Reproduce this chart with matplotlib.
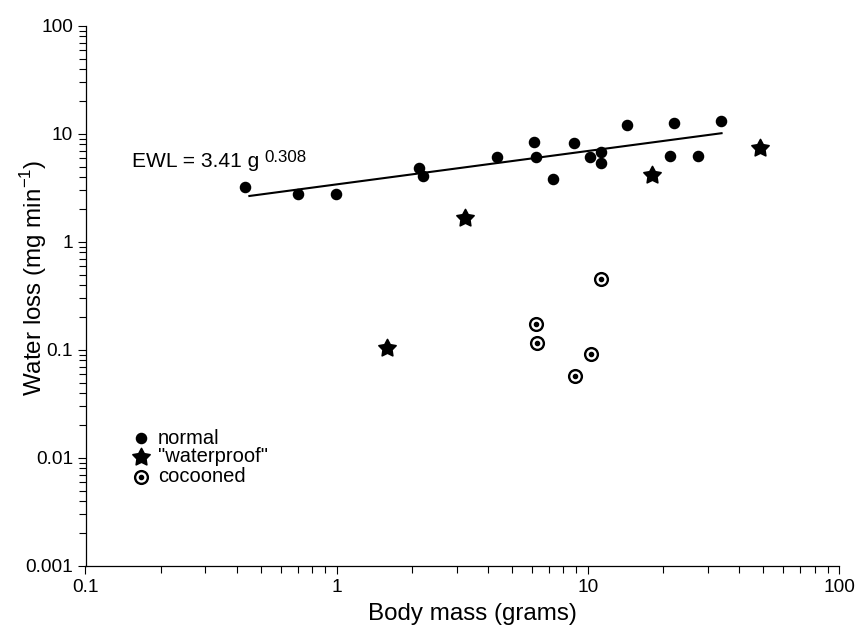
import numpy as np
import matplotlib
matplotlib.use("Agg")
import matplotlib.pyplot as plt
from matplotlib.path import Path
from matplotlib.ticker import LogLocator, FuncFormatter, NullFormatter

plt.rcParams['font.family'] = ['Liberation Sans', 'DejaVu Sans']

# body mass (g) and evaporative water loss (mg/min)
normal_mass = [0.43, 0.70, 0.99, 2.13, 2.21, 4.34, 6.12, 6.21, 7.24, 8.80,
               10.2, 11.3, 11.3, 14.3, 21.2, 22.1, 27.4, 33.8]
normal_ewl = [3.25, 2.77, 2.77, 4.88, 4.08, 6.08, 8.38, 6.08, 3.80, 8.20,
              6.16, 6.85, 5.36, 12.1, 6.25, 12.6, 6.25, 13.1]
waterproof_mass = [1.59, 3.24, 18.0, 48.4]
waterproof_ewl = [0.105, 1.66, 4.17, 7.36]
cocoon_mass = [6.21, 6.29, 8.86, 10.3, 11.3]
cocoon_ewl = [0.174, 0.117, 0.058, 0.092, 0.454]

# regression line EWL = 3.41 g^0.308, end points
fit_mass = [0.445, 34.4]
fit_ewl = [2.66, 10.2]

legend_labels = ['normal', '"waterproof"', 'cocooned']


def fat_star(inner=0.52):
    ang = np.pi / 2 + np.arange(10) * np.pi / 5
    r = np.where(np.arange(10) % 2 == 0, 1.0, inner)
    verts = np.column_stack([r * np.cos(ang), r * np.sin(ang)])
    verts = np.vstack([verts, verts[:1]])
    codes = [Path.MOVETO] + [Path.LINETO] * 9 + [Path.CLOSEPOLY]
    return Path(verts, codes)


star = fat_star()
dot_kw = dict(marker='o', ms=7.3, color='black', ls='none')
star_kw = dict(marker=star, ms=13, color='black', mew=1.2, ls='none')
ring_kw = dict(marker='o', ms=9.2, mfc='white', mec='black', mew=1.7, ls='none')
core_kw = dict(marker='o', ms=3.0, color='black', ls='none')

fig = plt.figure(figsize=(8.6, 6.31), dpi=100)
ax = fig.add_axes([85.5 / 860, 1 - 566 / 631, 753.5 / 860, 540 / 631])

ax.plot(fit_mass, fit_ewl, color='black', lw=1.5, solid_capstyle='butt')
ax.plot(normal_mass, normal_ewl, **dot_kw)
ax.plot(waterproof_mass, waterproof_ewl, **star_kw)
ax.plot(cocoon_mass, cocoon_ewl, **ring_kw)
ax.plot(cocoon_mass, cocoon_ewl, **core_kw)

ax.set_xscale('log')
ax.set_yscale('log')
ax.set_xlim(0.1, 100)
ax.set_ylim(0.001, 100)

fmt = FuncFormatter(lambda v, p: f'{v:g}')
for axis in (ax.xaxis, ax.yaxis):
    axis.set_major_locator(LogLocator(base=10))
    axis.set_minor_locator(LogLocator(base=10, subs=np.arange(2, 10)))
    axis.set_major_formatter(fmt)
    axis.set_minor_formatter(NullFormatter())

ax.tick_params(which='both', direction='out', width=0.8, labelsize=13.7)
ax.tick_params(which='major', length=5.5)
ax.tick_params(which='minor', length=5)
ax.tick_params(axis='x', pad=4)
ax.tick_params(axis='y', pad=3.5)

for s in ('top', 'right'):
    ax.spines[s].set_visible(False)
for s in ('left', 'bottom'):
    ax.spines[s].set_linewidth(0.9)

ax.set_xlabel('Body mass (grams)', fontsize=17.4)
ax.set_ylabel('Water loss (mg min$^{\\mathregular{-1}}$)', fontsize=17.4)
ax.xaxis.set_label_coords(0.513, -0.068)
ax.yaxis.set_label_coords(-0.049, 0.533)

# equation
ax.text(0.0621, 0.7394, 'EWL = 3.41 g', transform=ax.transAxes,
        fontsize=15.1, ha='left', va='baseline')
ax.text(0.2373, 0.7487, '0.308', transform=ax.transAxes,
        fontsize=12.2, ha='left', va='baseline')

# legend drawn by hand
leg_y = [0.237, 0.2019, 0.1654]
ax.plot(0.0737, leg_y[0], transform=ax.transAxes, clip_on=False, **dot_kw)
ax.plot(0.0737, leg_y[1], transform=ax.transAxes, clip_on=False, **star_kw)
ax.plot(0.0737, leg_y[2], transform=ax.transAxes, clip_on=False, **ring_kw)
ax.plot(0.0737, leg_y[2], transform=ax.transAxes, clip_on=False, **core_kw)
for y, lab in zip(leg_y, legend_labels):
    ax.text(0.0962, y, lab, transform=ax.transAxes, fontsize=14.5,
            ha='left', va='center')

fig.savefig('out.png', dpi=100, facecolor='white')
